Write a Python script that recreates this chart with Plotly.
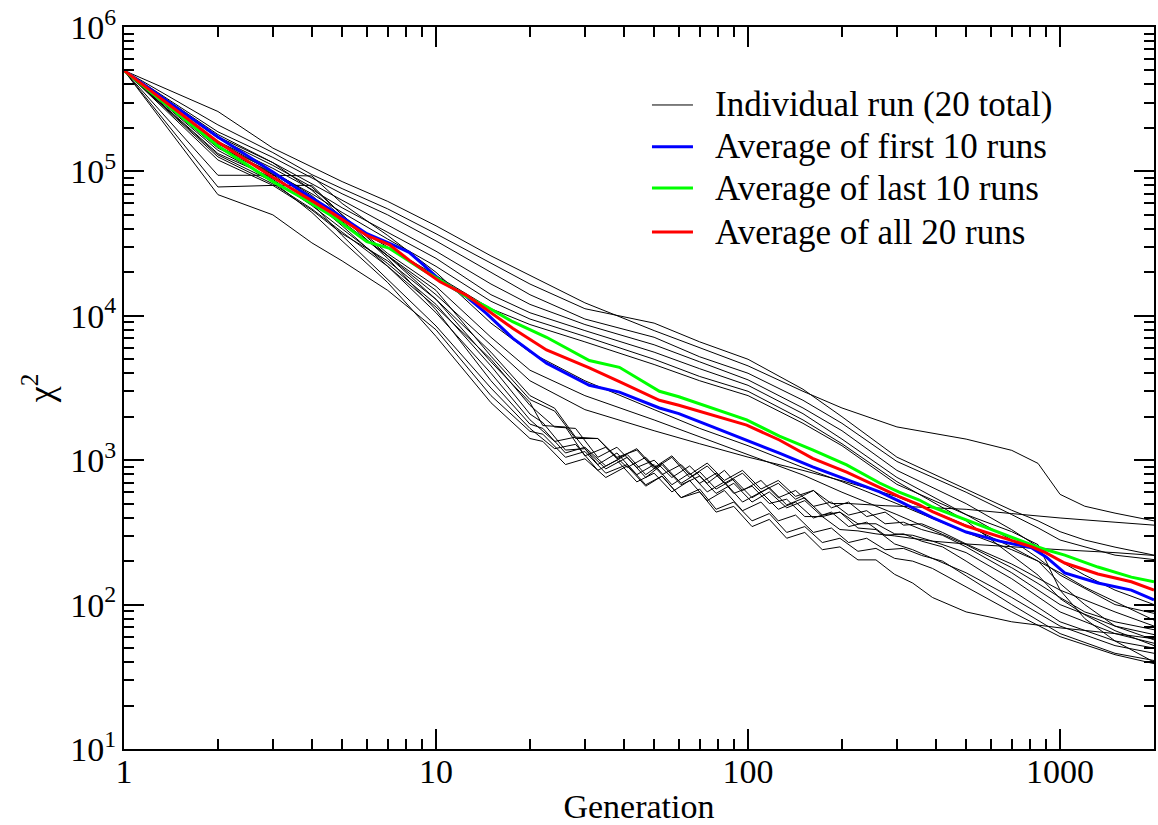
import plotly.graph_objects as go

# ---------------- data (chi^2 vs generation) ----------------
gen_coarse = [1, 2, 3, 4, 5, 7, 10, 15, 20, 30, 50, 70, 100, 150, 200, 300, 500, 700, 850, 1000, 1200, 1500, 2000]

run_u1 = [5.0e5, 2.6e5, 1.45e5, 1.07e5, 8.5e4, 6.2e4, 4.2e4, 2.6e4, 1.9e4, 1.23e4, 7.9e3, 6.0e3, 4.5e3, 3.0e3, 2.3e3, 1.7e3, 1.4e3, 1.17e3, 9.5e2, 5.8e2, 4.8e2, 4.3e2, 3.8e2]
run_u2 = [5.0e5, 2.1e5, 1.35e5, 9.5e4, 7.6e4, 5.5e4, 3.7e4, 2.3e4, 1.66e4, 1.12e4, 8.9e3, 6.6e3, 5.0e3, 3.1e3, 2.0e3, 1.05e3, 6.3e2, 4.5e2, 3.8e2, 3.2e2, 2.8e2, 2.5e2, 2.2e2]
run_u3 = [5.0e5, 1.88e5, 1.25e5, 9.0e4, 7.0e4, 5.0e4, 3.3e4, 2.0e4, 1.4e4, 9.5e3, 7.1e3, 5.2e3, 4.0e3, 2.6e3, 1.8e3, 9.8e2, 6.0e2, 4.2e2, 3.4e2, 2.8e2, 2.5e2, 2.2e2, 2.05e2]
run_u4 = [5.0e5, 1.74e5, 1.15e5, 8.2e4, 6.3e4, 4.3e4, 2.8e4, 1.66e4, 1.2e4, 8.7e3, 6.3e3, 4.8e3, 3.6e3, 2.3e3, 1.6e3, 8.5e2, 5.0e2, 3.3e2, 2.5e2, 2.0e2, 1.6e2, 1.26e2, 1.0e2]
run_u5 = [5.0e5, 1.61e5, 1.05e5, 7.5e4, 5.6e4, 3.8e4, 2.5e4, 1.4e4, 1.05e4, 7.9e3, 5.6e3, 4.3e3, 3.3e3, 2.1e3, 1.4e3, 7.6e2, 4.2e2, 2.8e2, 2.1e2, 1.6e2, 1.3e2, 1.0e2, 87]
run_u6 = [5.0e5, 1.48e5, 9.8e4, 7.0e4, 5.2e4, 3.4e4, 2.2e4, 1.26e4, 9.5e3, 7.2e3, 5.0e3, 3.8e3, 3.0e3, 1.9e3, 1.3e3, 7.1e2, 3.8e2, 2.2e2, 1.6e2, 1.1e2, 85, 66, 52]
run_u7 = [5.0e5, 1.33e5, 9.0e4, 6.4e4, 4.6e4, 3.0e4, 1.9e4, 1.12e4, 8.7e3, 6.6e3, 4.6e3, 3.55e3, 2.8e3, 1.8e3, 1.26e3, 6.8e2, 4.2e2, 3.2e2, 2.6e2, 1.26e2, 80, 56, 40]
run_m1 = [5.0e5, 9.4e4, 9.4e4, 9.3e4, 6.0e4, 3.6e4, 2.0e4, 8.9e3, 5.6e3, 3.55e3, 2.24e3, 1.66e3, 1.26e3, 8.9e2, 7.1e2, 5.0e2, 3.16e2, 2.4e2, 2.0e2, 1.66e2, 1.32e2, 1.05e2, 78]
run_m2 = [5.0e5, 1.7e5, 1.1e5, 7.8e4, 5.0e4, 2.7e4, 1.6e4, 7.1e3, 4.2e3, 2.8e3, 1.9e3, 1.45e3, 1.1e3, 7.9e2, 6.0e2, 4.2e2, 2.6e2, 1.8e2, 1.4e2, 1.12e2, 89, 76, 67]
run_m3 = [5.0e5, 1.55e5, 1.0e5, 6.8e4, 4.5e4, 2.6e4, 1.4e4, 6.3e3, 3.55e3, 2.24e3, 1.6e3, 1.3e3, 1.05e3, 8.5e2, 7.2e2, 5.6e2, 3.55e2, 2.5e2, 2.0e2, 1.4e2, 1.0e2, 71, 57]

# noisy runs: two interleaved generation grids
gen_dense_a = [1, 2, 3, 4, 5, 7, 10, 15, 20, 24, 28, 33, 38, 44, 50, 57, 65, 74, 84, 96, 110, 125, 142, 162, 185, 210, 240, 275, 315, 360, 420, 500, 700, 1000, 1500, 2000]
gen_dense_b = [1, 2, 3, 4, 5, 7, 10, 15, 20, 22, 26, 30, 35, 41, 47, 53, 61, 70, 79, 90, 103, 117, 133, 152, 173, 197, 225, 257, 295, 337, 390, 500, 700, 1000, 1500, 2000]

run_n1 = [5.0e5, 7.8e4, 8.0e4, 8.0e4, 5.0e4, 2.6e4, 1.3e4, 5.6e3, 2800, 2290, 1445, 1413, 1047, 1175, 871, 1047, 759, 912, 692, 813, 603, 692, 537, 617, 468, 513, 407, 437, 355, 363, 316, 263, 191, 126, 89, 71]
run_n2 = [5.0e5, 6.9e4, 5.0e4, 3.2e4, 2.4e4, 1.5e4, 8.0e3, 2.8e3, 1585, 1514, 1047, 1148, 813, 933, 676, 776, 550, 603, 437, 479, 347, 389, 288, 316, 240, 251, 204, 204, 162, 141, 112, 89, 76, 69, 63, 58]
run_n3 = [5.0e5, 1.26e5, 8.2e4, 5.5e4, 3.8e4, 2.2e4, 1.15e4, 5.0e3, 2399, 1698, 1660, 1047, 1230, 891, 1000, 759, 912, 692, 851, 617, 724, 550, 617, 479, 513, 417, 447, 363, 372, 331, 302, 251, 166, 100, 71, 62]
run_n4 = [5.0e5, 1.4e5, 8.8e4, 5.8e4, 4.0e4, 2.3e4, 1.2e4, 4.5e3, 2089, 1820, 1175, 1202, 871, 1047, 759, 933, 676, 776, 589, 692, 513, 603, 468, 525, 407, 437, 363, 363, 309, 302, 275, 229, 151, 89, 63, 54]
run_n5 = [5.0e5, 1.6e5, 1.0e5, 6.3e4, 4.2e4, 2.2e4, 1.05e4, 4.0e3, 1905, 1349, 1445, 933, 1122, 794, 933, 676, 813, 603, 708, 513, 603, 457, 513, 398, 437, 347, 372, 302, 309, 275, 251, 200, 126, 76, 56, 50]
run_n6 = [5.0e5, 1.8e5, 1.15e5, 7.4e4, 4.8e4, 2.5e4, 1.1e4, 3.55e3, 1778, 1660, 1122, 1230, 912, 1096, 794, 955, 692, 832, 631, 741, 550, 646, 490, 550, 417, 437, 339, 331, 263, 240, 209, 166, 112, 71, 52, 46]
run_n7 = [5.0e5, 1.45e5, 9.5e4, 6.0e4, 3.6e4, 1.8e4, 8.5e3, 3.16e3, 1660, 1202, 1288, 851, 1000, 708, 813, 603, 724, 525, 617, 447, 513, 380, 417, 316, 339, 269, 288, 240, 245, 219, 200, 158, 100, 63, 46, 41]
run_n8 = [5.0e5, 1.3e5, 8.5e4, 5.2e4, 3.3e4, 1.7e4, 7.2e3, 2.5e3, 1413, 1349, 933, 1023, 759, 912, 661, 776, 550, 631, 457, 513, 380, 427, 316, 347, 269, 288, 234, 245, 209, 200, 178, 132, 89, 60, 45, 39]
run_s1 = [5.0e5, 1.5e5, 9.6e4, 6.6e4, 4.4e4, 2.6e4, 1.5e4, 5.25e3, 2630, 2188, 1413, 1413, 1023, 1202, 891, 1072, 794, 955, 724, 851, 631, 724, 562, 617, 501, 501, 490, 484, 479, 473, 468, 457, 427, 398, 372, 355]
run_s2 = [5.0e5, 1.2e5, 8.0e4, 5.4e4, 3.7e4, 2.4e4, 1.3e4, 4.8e3, 2512, 1738, 1698, 1072, 1230, 891, 1047, 794, 933, 692, 813, 589, 661, 501, 537, 407, 407, 331, 324, 309, 299, 288, 275, 263, 251, 240, 229, 219]

avg_gen = [1, 2, 3, 3.66, 4.68, 6, 7.1, 8.2, 9, 10.3, 12.5, 14.5, 17.6, 22.6, 31, 38.7, 52, 60, 77, 99,
           126, 161, 207, 264, 305, 354, 390, 500, 640, 812, 902, 1035, 1322, 1692, 2000]
avg_first10 = [5.0e5, 1.73e5, 9.9e4, 7.4e4, 5.3e4, 3.7e4, 3.18e4, 2.75e4, 2.31e4, 1.77e4, 1.36e4, 1.04e4, 7.0e3, 4.7e3, 3.3e3, 2.96e3, 2.3e3, 2.1e3, 1.7e3, 1.38e3,
               1.12e3, 898, 730, 603, 520, 445, 400, 318, 275, 247, 214, 166, 141, 126, 108]
avg_last10 = [5.0e5, 1.5e5, 8.5e4, 6.7e4, 4.85e4, 3.26e4, 2.93e4, 2.4e4, 2.1e4, 1.77e4, 1.36e4, 1.16e4, 9.1e3, 7.1e3, 4.9e3, 4.4e3, 3.0e3, 2.75e3, 2.3e3, 1.9e3,
              1.47e3, 1.18e3, 927, 695, 600, 530, 474, 385, 313, 259, 240, 220, 182, 155, 144]
avg_all20 = [5.0e5, 1.6e5, 9.1e4, 7.05e4, 5.1e4, 3.6e4, 3.1e4, 2.43e4, 2.1e4, 1.72e4, 1.39e4, 1.1e4, 8.2e3, 5.8e3, 4.36e3, 3.5e3, 2.6e3, 2.4e3, 2.06e3, 1.75e3,
             1.38e3, 1.03e3, 828, 645, 560, 490, 440, 350, 294, 251, 228, 194, 163, 144, 126]

x_tickvals = [1, 10, 100, 1000]
x_ticktext = ["1", "10", "100", "1000"]
y_tickvals = [1e1, 1e2, 1e3, 1e4, 1e5, 1e6]
y_ticktext = ["10<sup>1</sup>", "10<sup>2</sup>", "10<sup>3</sup>", "10<sup>4</sup>", "10<sup>5</sup>", "10<sup>6</sup>"]
legend_labels = ["Individual run (20 total)", "Average of first 10 runs", "Average of last 10 runs", "Average of all 20 runs"]
legend_colors = ["black", "#0000FF", "#00FF00", "#FF0000"]

# ---------------- figure ----------------
FONT = "Liberation Serif, Times New Roman, serif"
fig = go.Figure()

coarse_runs = [run_u1, run_u2, run_u3, run_u4, run_u5, run_u6, run_u7, run_m1, run_m2, run_m3]
dense_runs = [(gen_dense_a, run_n1), (gen_dense_b, run_n2), (gen_dense_a, run_n3), (gen_dense_b, run_n4),
              (gen_dense_a, run_n5), (gen_dense_b, run_n6), (gen_dense_a, run_n7), (gen_dense_b, run_n8),
              (gen_dense_a, run_s1), (gen_dense_b, run_s2)]
for r in coarse_runs:
    fig.add_trace(go.Scatter(x=gen_coarse, y=r, mode="lines", line=dict(color="black", width=1), hoverinfo="skip"))
for g, r in dense_runs:
    fig.add_trace(go.Scatter(x=g, y=r, mode="lines", line=dict(color="black", width=1), hoverinfo="skip"))

for vals, col in [(avg_first10, legend_colors[1]), (avg_last10, legend_colors[2]), (avg_all20, legend_colors[3])]:
    fig.add_trace(go.Scatter(x=avg_gen, y=vals, mode="lines", line=dict(color=col, width=3)))

# manual legend
leg_y = [0.892, 0.834, 0.777, 0.716]
for lbl, col, yy, w in zip(legend_labels, legend_colors, leg_y, [1, 3, 3, 3]):
    fig.add_shape(type="line", xref="paper", yref="paper", x0=0.5126, x1=0.5524, y0=yy, y1=yy,
                  line=dict(color=col, width=w))
    fig.add_annotation(xref="paper", yref="paper", x=0.5718, y=yy, text=lbl, showarrow=False,
                       xanchor="left", yanchor="middle", font=dict(family=FONT, size=35, color="black"))

minor_x = [m * 10 ** e for e in range(0, 4) for m in range(2, 10) if m * 10 ** e <= 2000]
minor_y = [m * 10 ** e for e in range(1, 6) for m in range(2, 10)]

axis_common = dict(type="log", showgrid=False, zeroline=False, showline=True, linewidth=2, linecolor="black",
                   mirror="ticks", ticks="inside", ticklen=20, tickwidth=2, tickcolor="black",
                   tickfont=dict(family=FONT, size=34, color="black"))

fig.update_xaxes(**axis_common, range=[0, 3.30103], tickmode="array", tickvals=x_tickvals, ticktext=x_ticktext,
                 ticklabelstandoff=-9,
                 minor=dict(tickmode="array", tickvals=minor_x, ticks="inside", ticklen=10, tickwidth=2,
                            tickcolor="black", showgrid=False),
                 title=dict(text="Generation", font=dict(family=FONT, size=34, color="black"), standoff=6))
fig.update_yaxes(**axis_common, range=[1, 6], tickmode="array", tickvals=y_tickvals, ticktext=y_ticktext,
                 ticklabelstandoff=-1,
                 minor=dict(tickmode="array", tickvals=minor_y, ticks="inside", ticklen=10, tickwidth=2,
                            tickcolor="black", showgrid=False),
                 title=dict(text="χ<sup>2</sup>", font=dict(family=FONT, size=36, color="black"), standoff=6))

fig.update_layout(width=1158, height=825, margin=dict(l=124, r=4, t=27, b=76, autoexpand=False),
                  plot_bgcolor="white", paper_bgcolor="white", showlegend=False,
                  font=dict(family=FONT, size=34, color="black"))

fig.write_html("out.html", config={"displayModeBar": False},
               post_script="document.body.style.margin='0px';document.body.style.overflow='hidden';")
